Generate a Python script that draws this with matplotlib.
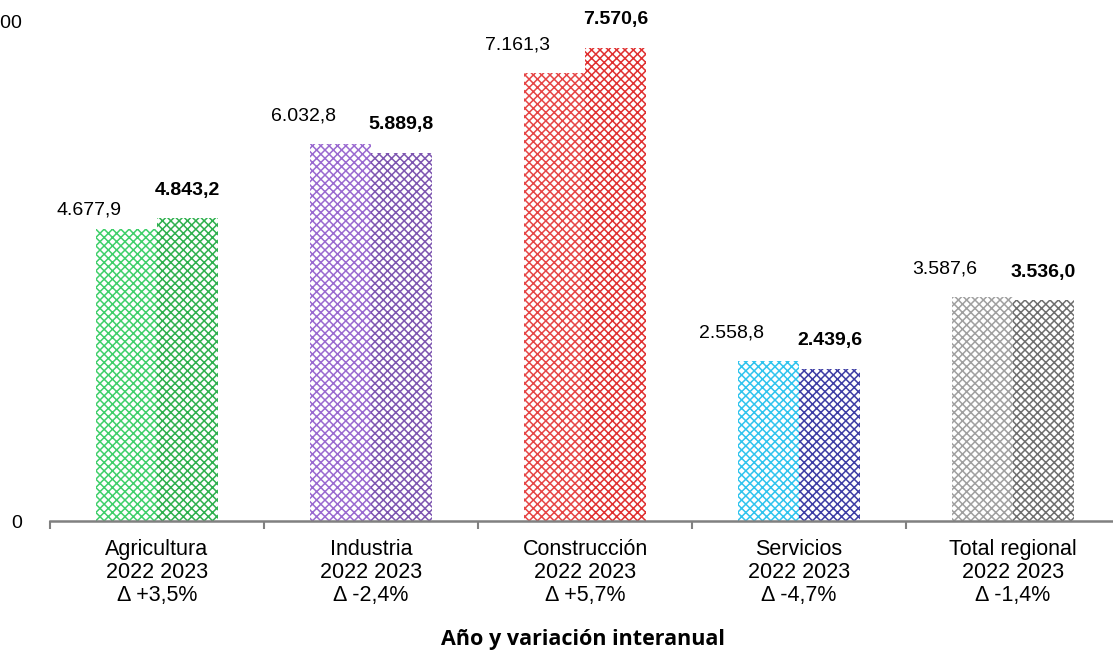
import matplotlib.pyplot as plt
import numpy as np

plt.rcParams['font.family'] = ['Liberation Sans', 'DejaVu Sans']
plt.rcParams['hatch.linewidth'] = 1.1

sectores = ["Agricultura", "Industria", "Construcción", "Servicios", "Total regional"]
variacion = ["+3,5%", "-2,4%", "+5,7%", "-4,7%", "-1,4%"]
valores_2022 = [4677.9, 6032.8, 7161.3, 2558.8, 3587.6]
valores_2023 = [4843.2, 5889.8, 7570.6, 2439.6, 3536.0]
colores_2022 = ["#3fcf6a", "#9a6ad0", "#e64545", "#30c4ee", "#a0a0a0"]
colores_2023 = ["#2fb04e", "#7d55b0", "#e03030", "#3c3ca4", "#6e6e6e"]


def fmt(v):
    s = f"{v:,.1f}"
    return s.replace(",", "X").replace(".", ",").replace("X", ".")


fig = plt.figure(figsize=(11.13, 6.57), dpi=100)
ax = fig.add_axes([50 / 1113, 1 - 521 / 657, 1070 / 1113, 500 / 657])

x = np.arange(len(sectores))
w = 0.285
ax.bar(x - w / 2, valores_2022, w, color="white", edgecolor=colores_2022,
       hatch="xxxx", linewidth=0)
ax.bar(x + w / 2, valores_2023, w, color="white", edgecolor=colores_2023,
       hatch="xxxx", linewidth=0)

for i in range(len(sectores)):
    # la etiqueta de agricultura 2022 queda un poco más baja en el original
    dy = 7 if i == 0 else 14
    ax.annotate(fmt(valores_2022[i]), (x[i] - w / 2, valores_2022[i]),
                xytext=(-27, dy), textcoords="offset points",
                ha="center", va="bottom", fontsize=14)
    ax.annotate(fmt(valores_2023[i]), (x[i] + w / 2, valores_2023[i]),
                xytext=(0, 14), textcoords="offset points",
                ha="center", va="bottom", fontsize=14, fontweight="bold")

ax.set_xlim(-0.5, len(sectores) - 0.5)
ax.set_ylim(0, 8000)
ax.set_yticks([0, 8000])
ax.set_yticklabels(["0", "8.000"], fontsize=14)
ax.tick_params(axis="y", length=0, pad=20)

ax.set_xticks(np.arange(-0.5, len(sectores), 1.0))
ax.set_xticklabels([])
ax.tick_params(axis="x", direction="out", length=6, width=1.5, color="#808080")
for i, s in enumerate(sectores):
    ax.text(x[i], -0.036, f"{s}\n2022 2023\nΔ {variacion[i]}",
            transform=ax.get_xaxis_transform(), ha="center", va="top",
            fontsize=15.5, linespacing=1.12)

for sp in ["top", "right", "left"]:
    ax.spines[sp].set_visible(False)
ax.spines["bottom"].set_color("#808080")
ax.spines["bottom"].set_linewidth(1.8)

fig.text(583 / 1113, 1 - 640 / 657, "Año y variación interanual",
         ha="center", va="center", fontsize=15.5, fontweight="bold",
         family=["Open Sans", "DejaVu Sans"])

fig.savefig("out.png", dpi=100)
